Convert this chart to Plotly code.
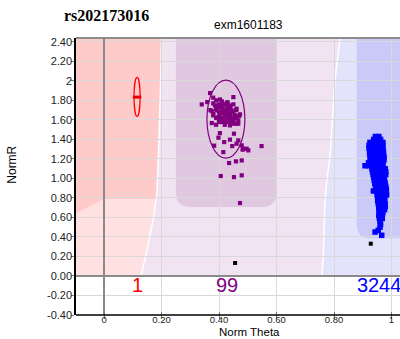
import plotly.graph_objects as go

# ---- data -------------------------------------------------------------
snp_name = "rs202173016"
probe_name = "exm1601183"

x_ticks = [0, 0.2, 0.4, 0.6, 0.8, 1.0]
x_tick_text = ["0", "0.20", "0.40", "0.60", "0.80", "1"]
y_ticks = [-0.4, -0.2, 0.0, 0.2, 0.4, 0.6, 0.8, 1.0, 1.2, 1.4, 1.6, 1.8, 2.0, 2.2, 2.4]
y_tick_text = ["-0.40", "-0.20", "0.00", "0.20", "0.40", "0.60", "0.80", "1.00",
               "1.20", "1.40", "1.60", "1.80", "2", "2.20", "2.40"]

# AA cluster
aa_theta = [0.115]
aa_r = [1.834]

# AB cluster
ab_theta = [0.369, 0.380, 0.359, 0.340, 0.403, 0.450, 0.427, 0.386, 0.398, 0.415,
            0.438, 0.375, 0.392, 0.409, 0.427, 0.444, 0.461, 0.403, 0.421, 0.438,
            0.456, 0.473, 0.380, 0.398, 0.415, 0.432, 0.450, 0.467, 0.403, 0.427,
            0.375, 0.450, 0.467, 0.438, 0.403, 0.452, 0.398, 0.438, 0.467, 0.418,
            0.461, 0.479, 0.496, 0.502, 0.485, 0.548, 0.383, 0.446, 0.415, 0.479,
            0.459, 0.435, 0.406, 0.452, 0.479, 0.473, 0.482,
            0.39, 0.41, 0.42, 0.40, 0.43, 0.44, 0.41, 0.39, 0.42, 0.43,
            0.40, 0.41, 0.43, 0.44, 0.42, 0.40, 0.41, 0.43, 0.44, 0.42,
            0.41, 0.45, 0.40, 0.38, 0.39, 0.45, 0.46, 0.42, 0.44, 0.39,
            0.37, 0.38, 0.46, 0.47, 0.43, 0.45, 0.40, 0.44, 0.42, 0.41,
            0.46, 0.39]
ab_r = [1.875, 1.828, 1.783, 1.759, 1.810, 1.834, 1.777, 1.749, 1.732, 1.749,
        1.749, 1.691, 1.698, 1.705, 1.715, 1.698, 1.715, 1.664, 1.664, 1.664,
        1.647, 1.657, 1.647, 1.630, 1.613, 1.623, 1.613, 1.595, 1.578, 1.578,
        1.568, 1.562, 1.562, 1.544, 1.465, 1.459, 1.418, 1.398, 1.390, 1.373,
        1.356, 1.339, 1.305, 1.288, 1.305, 1.332, 1.336, 1.332, 1.270, 1.185,
        1.175, 1.158, 1.025, 1.014, 1.032, 0.748, 1.295,
        1.80, 1.79, 1.76, 1.76, 1.74, 1.72, 1.72, 1.71, 1.70, 1.69,
        1.68, 1.67, 1.66, 1.65, 1.64, 1.63, 1.62, 1.61, 1.60, 1.59,
        1.58, 1.58, 1.60, 1.66, 1.73, 1.68, 1.62, 1.55, 1.56, 1.62,
        1.70, 1.77, 1.70, 1.64, 1.78, 1.76, 1.58, 1.63, 1.67, 1.75,
        1.56, 1.55]

# BB cluster
bb_theta = [0.944, 0.956,
            0.938, 0.950, 0.962,
            0.925, 0.937, 0.949, 0.961, 0.970,
            0.922, 0.934, 0.946, 0.958, 0.970,
            0.922, 0.934, 0.946, 0.958, 0.970,
            0.924, 0.936, 0.948, 0.960, 0.972,
            0.924, 0.936, 0.948, 0.960, 0.972,
            0.926, 0.938, 0.950, 0.962, 0.974,
            0.926, 0.938, 0.950, 0.962, 0.974,
            0.920, 0.934, 0.946, 0.958, 0.970,
            0.908, 0.920, 0.934, 0.946, 0.958, 0.970,
            0.932, 0.944, 0.956, 0.968, 0.978,
            0.934, 0.946, 0.958, 0.970, 0.980,
            0.936, 0.948, 0.960, 0.972, 0.980,
            0.938, 0.950, 0.962, 0.974,
            0.940, 0.952, 0.964, 0.976,
            0.942, 0.954, 0.966, 0.978,
            0.944, 0.956, 0.968, 0.980,
            0.948, 0.960, 0.972, 0.982,
            0.950, 0.962, 0.974, 0.982,
            0.950, 0.962, 0.974, 0.983,
            0.952, 0.964, 0.976,
            0.952, 0.964, 0.976,
            0.954, 0.966, 0.978,
            0.956, 0.968, 0.978,
            0.956, 0.968, 0.976,
            0.958, 0.970,
            0.956, 0.968,
            0.958, 0.968,
            0.960, 0.962, 0.960,
            0.943, 0.954, 0.966,
            0.937]
bb_r = [1.43, 1.43,
        1.40, 1.40, 1.40,
        1.37, 1.37, 1.37, 1.37, 1.37,
        1.34, 1.34, 1.34, 1.34, 1.34,
        1.31, 1.31, 1.31, 1.31, 1.31,
        1.28, 1.28, 1.28, 1.28, 1.28,
        1.25, 1.25, 1.25, 1.25, 1.25,
        1.22, 1.22, 1.22, 1.22, 1.22,
        1.19, 1.19, 1.19, 1.19, 1.19,
        1.16, 1.16, 1.16, 1.16, 1.16,
        1.13, 1.13, 1.13, 1.13, 1.13, 1.13,
        1.10, 1.10, 1.10, 1.10, 1.10,
        1.07, 1.07, 1.07, 1.07, 1.07,
        1.04, 1.04, 1.04, 1.04, 1.04,
        1.01, 1.01, 1.01, 1.01,
        0.98, 0.98, 0.98, 0.98,
        0.95, 0.95, 0.95, 0.95,
        0.92, 0.92, 0.92, 0.92,
        0.89, 0.89, 0.89, 0.89,
        0.86, 0.86, 0.86, 0.86,
        0.83, 0.83, 0.83, 0.83,
        0.80, 0.80, 0.80,
        0.77, 0.77, 0.77,
        0.74, 0.74, 0.74,
        0.71, 0.71, 0.71,
        0.68, 0.68, 0.68,
        0.65, 0.65,
        0.62, 0.62,
        0.59, 0.59,
        0.56, 0.53, 0.50,
        0.451, 0.468, 0.417,
        0.871]

# no-call samples
nc_theta = [0.456, 0.928]
nc_r = [0.133, 0.331]

# genotype counts shown under the clusters
count_labels = ["1", "99", "3244"]
count_theta = [0.117, 0.428, 0.957]
count_r = [-0.112, -0.112, -0.112]
count_colors = ["#ff0000", "#800080", "#0000ff"]

# cluster ellipses: (centre theta, centre R, half width, half height, colour)
ellipses = [(0.115, 1.836, 0.0105, 0.20, "#ff0000"),
            (0.424, 1.609, 0.066, 0.400, "#800080")]

# call-region boundaries (theta, R)
ab_left_edge = [(0.200, 2.44), (0.197, 2.0), (0.193, 1.6), (0.190, 1.29),
                (0.184, 0.85), (0.172, 0.60), (0.152, 0.30), (0.129, 0.0)]
ab_right_edge = [(0.821, 2.44), (0.803, 2.0), (0.786, 1.22), (0.775, 0.98),
                 (0.768, 0.74), (0.763, 0.19), (0.757, 0.0)]

X_RANGE = [-0.0975, 1.0296]
Y_RANGE = [-0.4, 2.44]

# ---- figure -----------------------------------------------------------
def pts(seq):
    return " ".join(f"L {a},{b}" for a, b in seq)

shapes = []
top, right = 2.6, 1.2
# AA region (light) and its dense core
shapes.append(dict(type="path", layer="below", line=dict(width=0), fillcolor="#ffe1e1",
                   path=f"M {-0.2},0 L {-0.2},{top} L {ab_left_edge[0][0]},{top} "
                        + pts(ab_left_edge) + " Z"))
shapes.append(dict(type="path", layer="below", line=dict(width=0), fillcolor="#ffcaca",
                   path=f"M {-0.2},{top} L {ab_left_edge[0][0]},{top} "
                        + pts(ab_left_edge[:4]) + " L 0.187,0.79 L 0,0.79 L -0.2,0.49 Z"))
# AB region
shapes.append(dict(type="path", layer="below", line=dict(width=0), fillcolor="#f1e3f1",
                   path=f"M {ab_left_edge[-1][0]},0 " + pts(ab_left_edge[::-1])
                        + f" L {ab_left_edge[0][0]},{top} L {ab_right_edge[0][0]},{top} "
                        + pts(ab_right_edge) + " Z"))
shapes.append(dict(type="path", layer="below", line=dict(width=0), fillcolor="#e0c9e0",
                   path=f"M 0.250,{top} L 0.250,0.86 Q 0.250,0.707 0.300,0.707 "
                        f"L 0.550,0.707 Q 0.600,0.707 0.600,0.86 L 0.600,{top} Z"))
# BB region
shapes.append(dict(type="path", layer="below", line=dict(width=0), fillcolor="#e3e3fc",
                   path=f"M {ab_right_edge[-1][0]},0 " + pts(ab_right_edge[::-1])
                        + f" L {ab_right_edge[0][0]},{top} L {right},{top} L {right},0 Z"))
shapes.append(dict(type="path", layer="below", line=dict(width=0), fillcolor="#cacaf9",
                   path=f"M 0.879,{top} L 0.879,0.54 Q 0.879,0.386 0.925,0.386 "
                        f"L {right},0.386 L {right},{top} Z"))
# white seams between regions
for edge in (ab_left_edge, ab_right_edge):
    shapes.append(dict(type="path", layer="below", line=dict(color="white", width=1.5),
                       path=f"M {edge[0][0]},{top} " + pts(edge)))
# frame: grey top edge, black bottom axis line
shapes.append(dict(type="line", xref="paper", yref="paper", x0=0, x1=1, y0=1, y1=1,
                   line=dict(color="#8c8c8c", width=2)))
shapes.append(dict(type="line", xref="paper", yref="paper", x0=0, x1=1, y0=0, y1=0,
                   line=dict(color="black", width=1.5)))
# cluster ellipses
for cx, cy, hw, hh, col in ellipses:
    shapes.append(dict(type="circle", x0=cx - hw, x1=cx + hw, y0=cy - hh, y1=cy + hh,
                       line=dict(color=col, width=1.2)))

fig = go.Figure()
fig.add_trace(go.Scatter(x=bb_theta, y=bb_r, mode="markers",
                         marker=dict(color="#0000ff", size=5.5, symbol="square"),
                         hoverinfo="skip"))
fig.add_trace(go.Scatter(x=ab_theta, y=ab_r, mode="markers",
                         marker=dict(color="#800080", size=4.2, symbol="square"),
                         hoverinfo="skip"))
fig.add_trace(go.Scatter(x=aa_theta, y=aa_r, mode="markers",
                         marker=dict(color="#e00000", size=6, symbol="line-ew",
                                     line=dict(color="#e00000", width=3)),
                         hoverinfo="skip"))
fig.add_trace(go.Scatter(x=nc_theta, y=nc_r, mode="markers",
                         marker=dict(color="black", size=4, symbol="square"),
                         hoverinfo="skip"))
fig.add_trace(go.Scatter(x=count_theta, y=count_r, mode="text", text=count_labels,
                         textfont=dict(family="Liberation Sans", size=20, color=count_colors),
                         hoverinfo="skip"))

annotations = [
    dict(text=f"<b>{snp_name}</b>", xref="paper", yref="paper", x=0.093, y=1.083,
         xanchor="center", yanchor="middle", showarrow=False,
         font=dict(family="Liberation Serif", size=16, color="black")),
    dict(text=probe_name, xref="paper", yref="paper", x=0.531, y=1.047,
         xanchor="center", yanchor="middle", showarrow=False,
         font=dict(family="Liberation Sans", size=12, color="black")),
    dict(text="Norm Theta", xref="paper", yref="paper", x=0.537, y=-0.0615,
         xanchor="center", yanchor="middle", showarrow=False,
         font=dict(family="Liberation Sans", size=11.5, color="black")),
    dict(text="NormR", xref="paper", yref="paper", x=-0.198, y=0.542, textangle=-90,
         xanchor="center", yanchor="middle", showarrow=False,
         font=dict(family="Liberation Sans", size=12, color="black")),
]

# label placement follows the (zero-length) major ticks; the visible tick
# marks come from minor ticks on the same values
axis_common = dict(showgrid=True, gridcolor="#d9d9d9", gridwidth=1,
                   zeroline=True, zerolinecolor="#8a8a8a", zerolinewidth=2,
                   ticks="outside", ticklen=0,
                   automargin=False, fixedrange=True)

fig.update_layout(
    width=400, height=339,
    margin=dict(l=76, r=0, t=38, b=24),
    paper_bgcolor="white", plot_bgcolor="white",
    showlegend=False,
    shapes=shapes,
    annotations=annotations,
    xaxis=dict(range=X_RANGE, tickvals=x_ticks, ticktext=x_tick_text,
               anchor="free", position=0.016, showline=False,
               tickfont=dict(family="Liberation Sans", size=9.5, color="#222222"),
               minor=dict(tickvals=x_ticks, ticks="outside", ticklen=7,
                          tickcolor="#777777", showgrid=False),
               **axis_common),
    yaxis=dict(range=Y_RANGE, tickvals=y_ticks, ticktext=y_tick_text,
               showline=True, linecolor="black", linewidth=1.5,
               tickfont=dict(family="Liberation Sans", size=11, color="#222222"),
               minor=dict(tickvals=y_ticks, ticks="outside", ticklen=3,
                          tickcolor="#777777", showgrid=False),
               **axis_common),
)

fig.write_html("out.html")
